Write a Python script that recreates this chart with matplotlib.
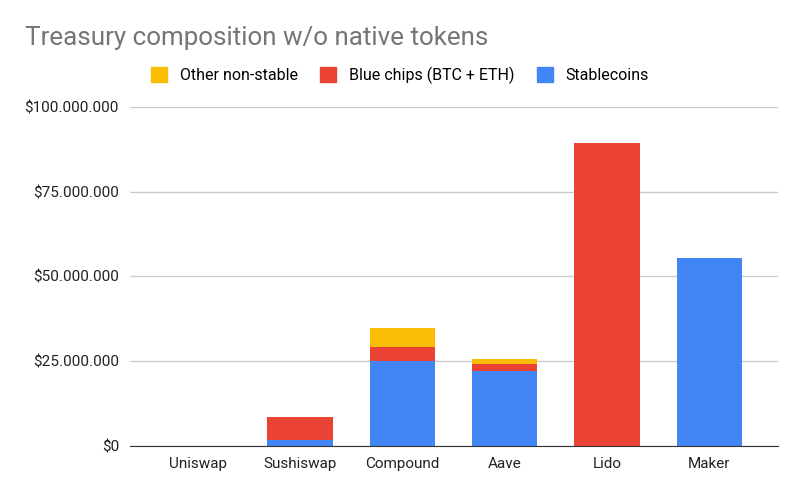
import matplotlib
matplotlib.use('Agg')
import matplotlib.pyplot as plt
from matplotlib.patches import Patch
from matplotlib.ticker import FuncFormatter
import numpy as np

plt.rcParams['font.family'] = ['Roboto', 'DejaVu Sans']

# dati (milioni di $)
protocols = ['Uniswap', 'Sushiswap', 'Compound', 'Aave', 'Lido', 'Maker']
stablecoins = [0, 1.7, 25.0, 22.2, 0, 55.4]
blue_chips = [0, 6.75, 4.1, 2.1, 89.4, 0]
other_non_stable = [0, 0, 5.8, 1.5, 0, 0]

c_stable = '#4285F4'
c_blue = '#EA4335'
c_other = '#FBBC04'

fig = plt.figure(figsize=(8, 4.95), dpi=100)
ax = fig.add_axes([0.1625, 0.099, 0.81, 0.685])

x = np.arange(len(protocols))
s = np.array(stablecoins) * 1e6
b = np.array(blue_chips) * 1e6
o = np.array(other_non_stable) * 1e6
w = 0.64
ax.bar(x, s, w, color=c_stable, zorder=3)
ax.bar(x, b, w, bottom=s, color=c_blue, zorder=3)
ax.bar(x, o, w, bottom=s + b, color=c_other, zorder=3)

ax.set_xlim(-0.66, 5.67)
ax.set_ylim(0, 100e6)
ax.set_yticks([0, 25e6, 50e6, 75e6, 100e6])
ax.yaxis.set_major_formatter(FuncFormatter(lambda v, p: '$' + f'{int(v):,}'.replace(',', '.')))
ax.set_xticks(x)
ax.set_xticklabels(protocols)
ax.tick_params(axis='both', length=0, labelsize=11, labelcolor='#222222')
ax.tick_params(axis='x', pad=8)
ax.tick_params(axis='y', pad=8)
ax.grid(axis='y', color='#cccccc', linewidth=1, zorder=0)
for sp in ['top', 'right', 'left']:
    ax.spines[sp].set_visible(False)
ax.spines['bottom'].set_color('#333333')
ax.spines['bottom'].set_zorder(4)

fig.text(0.031, 0.923, 'Treasury composition w/o native tokens', fontsize=18.7,
         color='#757575', va='center')

handles = [Patch(color=c_other, label='Other non-stable'),
           Patch(color=c_blue, label='Blue chips (BTC + ETH)'),
           Patch(color=c_stable, label='Stablecoins')]
fig.legend(handles=handles, loc='center', bbox_to_anchor=(0.5, 0.848), ncol=3,
           frameon=False, fontsize=11.5, handlelength=1.0, handleheight=1.0,
           columnspacing=1.4, handletextpad=0.8)

plt.savefig('out.png', dpi=100)
